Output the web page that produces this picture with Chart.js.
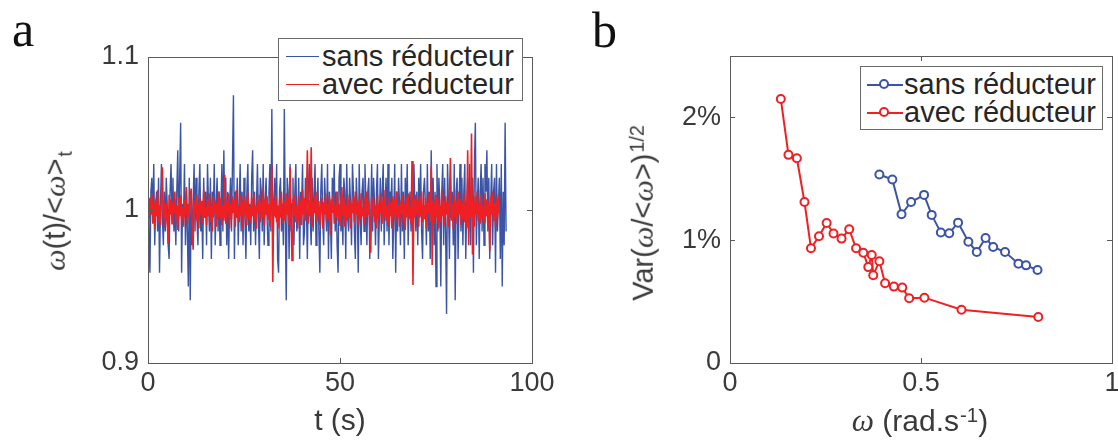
<!DOCTYPE html>
<html lang="fr">
<head>
<meta charset="UTF-8">
<title>Fluctuations de vitesse : sans / avec réducteur</title>
<style>
body {margin:0; width:1118px; height:443px; overflow:hidden; background:#fff; position:relative; font-family:"Liberation Sans", Arial, Helvetica, sans-serif; color:#3a3a3a;}
canvas {position:absolute; top:0;}
#cA {left:0;}
#cB {left:560px;}
.lbl {position:absolute; white-space:nowrap; line-height:1; font-size:29px; transform:translate(-50%,-50%);}
.rot {transform:translate(-50%,-50%) rotate(-90deg);}
.om {font-family:"Liberation Serif", "DejaVu Serif", serif; font-style:italic; font-size:1.05em;}
.sub {position:relative; top:0.35em; font-size:0.68em; margin-left:2px;}
.sup {position:relative; top:-0.45em; font-size:0.68em; margin-left:1px;}
.panel {position:absolute; font-family:"Liberation Serif", "Times New Roman", serif; font-size:50px; line-height:50px; color:#111;}
.legend {position:absolute; background:#fff; border:1px solid #6a6a6a; font-size:29px; color:#262626; line-height:1;}
.legend .ln {position:absolute; height:0; border-top:1.5px solid;}
.legend .mk {position:absolute; width:6px; height:6px; border:2px solid; border-radius:50%; background:#fff;}
.legend .tx {position:absolute; transform:translateY(-50%);}
</style>
</head>
<body>
<canvas id="cA" width="560" height="443"></canvas>
<canvas id="cB" width="570" height="443"></canvas>

<div class="panel" style="left:12px; top:4px;">a</div>
<div class="panel" style="left:592px; top:5px;">b</div>

<div class="lbl rot" style="left:55px; top:211px;"><span class="om">ω</span>(t)/&lt;<span class="om">ω</span>&gt;<span class="sub">t</span></div>
<div class="lbl" style="left:340px; top:420px; font-size:30px;">t (s)</div>
<div class="lbl rot" style="left:643px; top:213px;">Var(<span class="om">ω</span>/&lt;<span class="om">ω</span>&gt;)<span class="sup">1/2</span></div>
<div class="lbl" style="left:920px; top:421px; font-size:30px;"><span class="om">ω</span> (rad.s<span class="sup">-1</span>)</div>

<div class="legend" style="left:278px; top:38px; width:243px; height:61px;">
  <div class="ln" style="left:7px; width:33px; top:17px; border-color:#3b54a5;"></div>
  <div class="tx" style="left:43px; top:17px;">sans réducteur</div>
  <div class="ln" style="left:7px; width:33px; top:45px; border-color:#ee2024;"></div>
  <div class="tx" style="left:43px; top:45px;">avec réducteur</div>
</div>
<div class="legend" style="left:860px; top:66px; width:241px; height:62px;">
  <div class="ln" style="left:6px; width:36px; top:17px; border-top-width:2px; border-color:#3b54a5;"></div>
  <div class="mk" style="left:18px; top:12px; border-color:#3b54a5;"></div>
  <div class="tx" style="left:43px; top:17px;">sans réducteur</div>
  <div class="ln" style="left:6px; width:36px; top:45px; border-top-width:2px; border-color:#ee2024;"></div>
  <div class="mk" style="left:18px; top:40px; border-color:#ee2024;"></div>
  <div class="tx" style="left:43px; top:45px;">avec réducteur</div>
</div>

<script src="https://cdn.jsdelivr.net/npm/chart.js"></script>
<script>
// ---- panel a : omega(t)/<omega>_t, sampled every DT seconds ----
// values are deviations from 1, in thousandths (read off the picture)
const DT = 0.25;
const sansDev = [
  4,-14,-41,12,21,-5,30,-23,4,12,-14,21,-41,4,30,-5,-23,12,-14,21,4,-23,-32,12,30,
  -5,21,-14,4,-23,12,39,-14,21,57,-41,4,-5,30,-23,12,-14,-50,21,-59,12,-23,4,30,-14,
  21,-5,-23,12,30,-14,4,-32,21,-5,12,-23,30,4,-14,21,-32,12,-5,30,-23,4,21,-14,12,
  -23,4,30,-14,39,-5,21,-23,12,-32,4,21,-14,30,75,-32,12,-5,21,-23,4,30,-14,12,-23,
  21,-5,-32,12,30,-14,4,-23,21,39,-14,12,-23,4,30,-5,-32,21,12,-14,30,-23,4,21,-5,
  -23,12,30,-14,66,-23,4,21,-5,30,-32,-41,12,21,-14,4,-23,66,-5,-59,21,12,-32,30,-14,
  4,21,-23,12,30,-14,-5,21,-32,12,4,30,-23,-14,21,4,-32,12,30,-5,-23,21,-14,12,30,
  -23,4,21,-14,-41,12,30,-5,-23,21,4,-14,30,-32,12,-5,-32,21,4,30,-14,12,-23,-41,21,
  30,-14,4,-23,21,12,-32,30,-5,-14,21,4,-23,30,12,-14,-32,21,4,-41,30,-5,-23,12,21,
  -14,30,4,-23,12,21,-32,-5,30,-14,21,4,-23,12,30,-32,-5,21,-14,12,30,-23,4,21,-14,
  30,-23,12,4,21,-32,-5,30,-41,12,-14,21,4,-23,30,-14,12,-32,21,-5,30,-23,4,12,-14,
  21,-32,30,4,-14,12,-23,21,-5,30,-14,-32,12,21,4,-23,30,-14,12,-32,39,-5,21,-23,12,
  -50,30,-14,21,4,-50,12,30,-23,21,-14,-68,30,4,-32,21,-5,12,-23,30,-59,12,21,-32,4,
  30,-14,21,-23,12,30,-32,4,21,-14,30,-23,12,21,-41,30,57,-23,4,21,-32,12,30,-14,21,
  -23,30,12,39,-14,21,-32,4,30,-23,12,21,-41,30,-14,4,21,-32,30,-50,12,-23,57,-14
];
const avecDev = [
  2,-6,8,-3,11,-9,5,-12,7,-4,13,-8,3,-10,9,28,-5,6,-11,4,-7,-22,10,-3,7,
  -9,5,-2,12,-7,3,-13,8,-4,10,-6,2,-11,7,-3,15,-9,4,-5,9,14,-8,-26,6,-2,
  10,-7,4,-12,8,-3,6,-9,13,-5,2,-10,7,-4,11,-8,3,-14,9,-2,6,-11,5,-6,12,
  -4,8,-10,3,-7,23,-9,6,-3,11,-12,4,-6,9,-2,7,-11,13,-5,3,-8,10,-4,6,-13,
  9,-3,5,-10,12,-6,2,-9,8,-4,11,-7,3,-12,6,-2,10,-8,4,-5,14,-10,7,-3,9,
  -6,4,-11,8,29,-47,6,-4,10,-8,3,-12,7,-5,12,-2,-9,5,-7,11,-3,8,-10,28,-6,
  -33,7,-4,10,-8,3,-12,9,-5,6,-10,13,-3,8,-7,4,39,-9,6,-4,41,-11,5,-2,9,
  -7,12,-4,6,-10,3,8,-12,5,-3,11,-8,4,-6,9,-16,7,-2,10,-9,3,-5,12,-7,4,
  -10,6,15,-4,8,-11,3,-7,10,-5,7,-12,4,-2,9,-8,12,-3,5,-10,7,-6,11,-4,2,
  -9,8,-5,12,-3,6,-11,-28,9,-4,7,-8,3,-12,10,-6,4,-2,11,-9,6,-5,13,-7,3,
  -10,8,-4,5,-12,9,-3,7,-8,12,-5,3,-11,6,-2,10,-7,4,-13,8,-4,11,-6,2,-9,
  32,-49,7,-5,10,-3,6,-11,9,-4,12,-8,3,-6,8,-12,5,-2,11,-7,29,-36,6,-9,4,
  10,-5,7,-12,3,-8,13,-4,6,-10,9,-3,5,-11,8,34,-7,4,-13,10,-5,6,-9,12,-3,
  7,-10,4,-6,11,-8,5,-12,39,-23,8,-5,50,-29,6,-11,9,-3,12,-7,4,-9,10,-6,3,
  -8,11,-4,7,-10,5,-27,9,-3,12,-7,4,-11,8,-5,10,-2
];
const tickAx = [0, 50, 100];
const tickAxLabels = ['0', '50', '100'];
const tickAy = [0.9, 1, 1.1];
const tickAyLabels = ['0.9', '1', '1.1'];

// ---- panel b : Var(omega/<omega>)^(1/2) in % vs omega ----
const sansOmega = [0.391,0.425,0.449,0.474,0.508,0.528,0.552,0.574,0.597,0.624,0.646,0.669,0.689,0.720,0.755,0.775,0.805];
const sansVar   = [1.535,1.494,1.211,1.311,1.369,1.206,1.062,1.056,1.143,0.988,0.904,1.018,0.945,0.904,0.809,0.795,0.757];
const avecOmega = [0.133,0.153,0.175,0.195,0.212,0.233,0.253,0.271,0.292,0.312,0.330,0.349,0.362,0.371,0.375,0.391,0.406,0.429,0.451,0.469,0.509,0.606,0.807];
const avecVar   = [2.150,1.695,1.667,1.311,0.934,1.032,1.140,1.054,1.013,1.089,0.934,0.898,0.781,0.879,0.715,0.829,0.649,0.622,0.614,0.527,0.532,0.434,0.374];
const tickBx = [0, 0.5, 1];
const tickBxLabels = ['0', '0.5', '1'];
const tickBy = [0, 1, 2];
const tickByLabels = ['0', '1%', '2%'];

const BLUE = '#3b54a5';
const RED = '#ee2024';
const AXIS = '#5a5a5a';
const TICKFONT = {family: '"Liberation Sans", Arial, Helvetica, sans-serif', size: 27};

// matlab style box with inward ticks on all four sides
const boxPlugin = {
  id: 'box',
  afterDraw(chart) {
    const {ctx, chartArea: a, scales} = chart;
    ctx.save();
    ctx.strokeStyle = AXIS;
    ctx.lineWidth = 1;
    ctx.strokeRect(a.left + 0.5, a.top + 0.5, a.right - a.left, a.bottom - a.top);
    ctx.beginPath();
    scales.x.ticks.forEach(t => {
      const px = Math.round(scales.x.getPixelForValue(t.value)) + 0.5;
      ctx.moveTo(px, a.bottom); ctx.lineTo(px, a.bottom - 5);
      ctx.moveTo(px, a.top); ctx.lineTo(px, a.top + 5);
    });
    scales.y.ticks.forEach(t => {
      const py = Math.round(scales.y.getPixelForValue(t.value)) + 0.5;
      ctx.moveTo(a.left, py); ctx.lineTo(a.left + 5, py);
      ctx.moveTo(a.right, py); ctx.lineTo(a.right - 5, py);
    });
    ctx.stroke();
    ctx.restore();
  }
};

function axis(min, max, ticks, labels, size, isY) {
  return {
    type: 'linear', min: min, max: max,
    grid: {display: true, drawOnChartArea: false, drawTicks: false, color: 'transparent'},
    border: {display: false},
    afterBuildTicks: s => { s.ticks = ticks.map(v => ({value: v})); },
    afterFit: s => { if (isY) s.width = size; else s.height = size; },
    ticks: {
      font: TICKFONT, color: '#3a3a3a', padding: isY ? 9 : 4, autoSkip: false, maxRotation: 0,
      callback: (v) => { const i = ticks.findIndex(t => Math.abs(t - v) < 1e-9); return i < 0 ? '' : labels[i]; }
    }
  };
}

new Chart(document.getElementById('cA'), {
  type: 'line',
  data: {
    datasets: [
      {label: 'sans réducteur', data: sansDev.map((d, i) => ({x: i * DT, y: 1 + d / 1000})),
       borderColor: BLUE, borderWidth: 1.4, pointRadius: 0, order: 2},
      {label: 'avec réducteur', data: avecDev.map((d, i) => ({x: i * DT, y: 1 + d / 1000})),
       borderColor: RED, borderWidth: 1.6, pointRadius: 0, order: 1}
    ]
  },
  options: {
    responsive: false, animation: false,
    layout: {padding: {top: 57, right: 28, left: 0, bottom: 0}},
    plugins: {legend: {display: false}, tooltip: {enabled: false}},
    scales: {
      x: axis(0, 100, tickAx, tickAxLabels, 80, false),
      y: axis(0.9, 1.1, tickAy, tickAyLabels, 148, true)
    }
  },
  plugins: [boxPlugin]
});

new Chart(document.getElementById('cB'), {
  type: 'line',
  data: {
    datasets: [
      {label: 'sans réducteur', data: sansOmega.map((w, i) => ({x: w, y: sansVar[i]})),
       borderColor: BLUE, borderWidth: 2, pointRadius: 4, pointBorderWidth: 2,
       pointBackgroundColor: '#fff', pointBorderColor: BLUE},
      {label: 'avec réducteur', data: avecOmega.map((w, i) => ({x: w, y: avecVar[i]})),
       borderColor: RED, borderWidth: 2, pointRadius: 4, pointBorderWidth: 2,
       pointBackgroundColor: '#fff', pointBorderColor: RED}
    ]
  },
  options: {
    responsive: false, animation: false,
    layout: {padding: {top: 56, right: 18, left: 0, bottom: 0}},
    plugins: {legend: {display: false}, tooltip: {enabled: false}},
    scales: {
      x: axis(0, 1, tickBx, tickBxLabels, 80, false),
      y: axis(0, 2.5, tickBy, tickByLabels, 170, true)
    }
  },
  plugins: [boxPlugin]
});
</script>
</body>
</html>
